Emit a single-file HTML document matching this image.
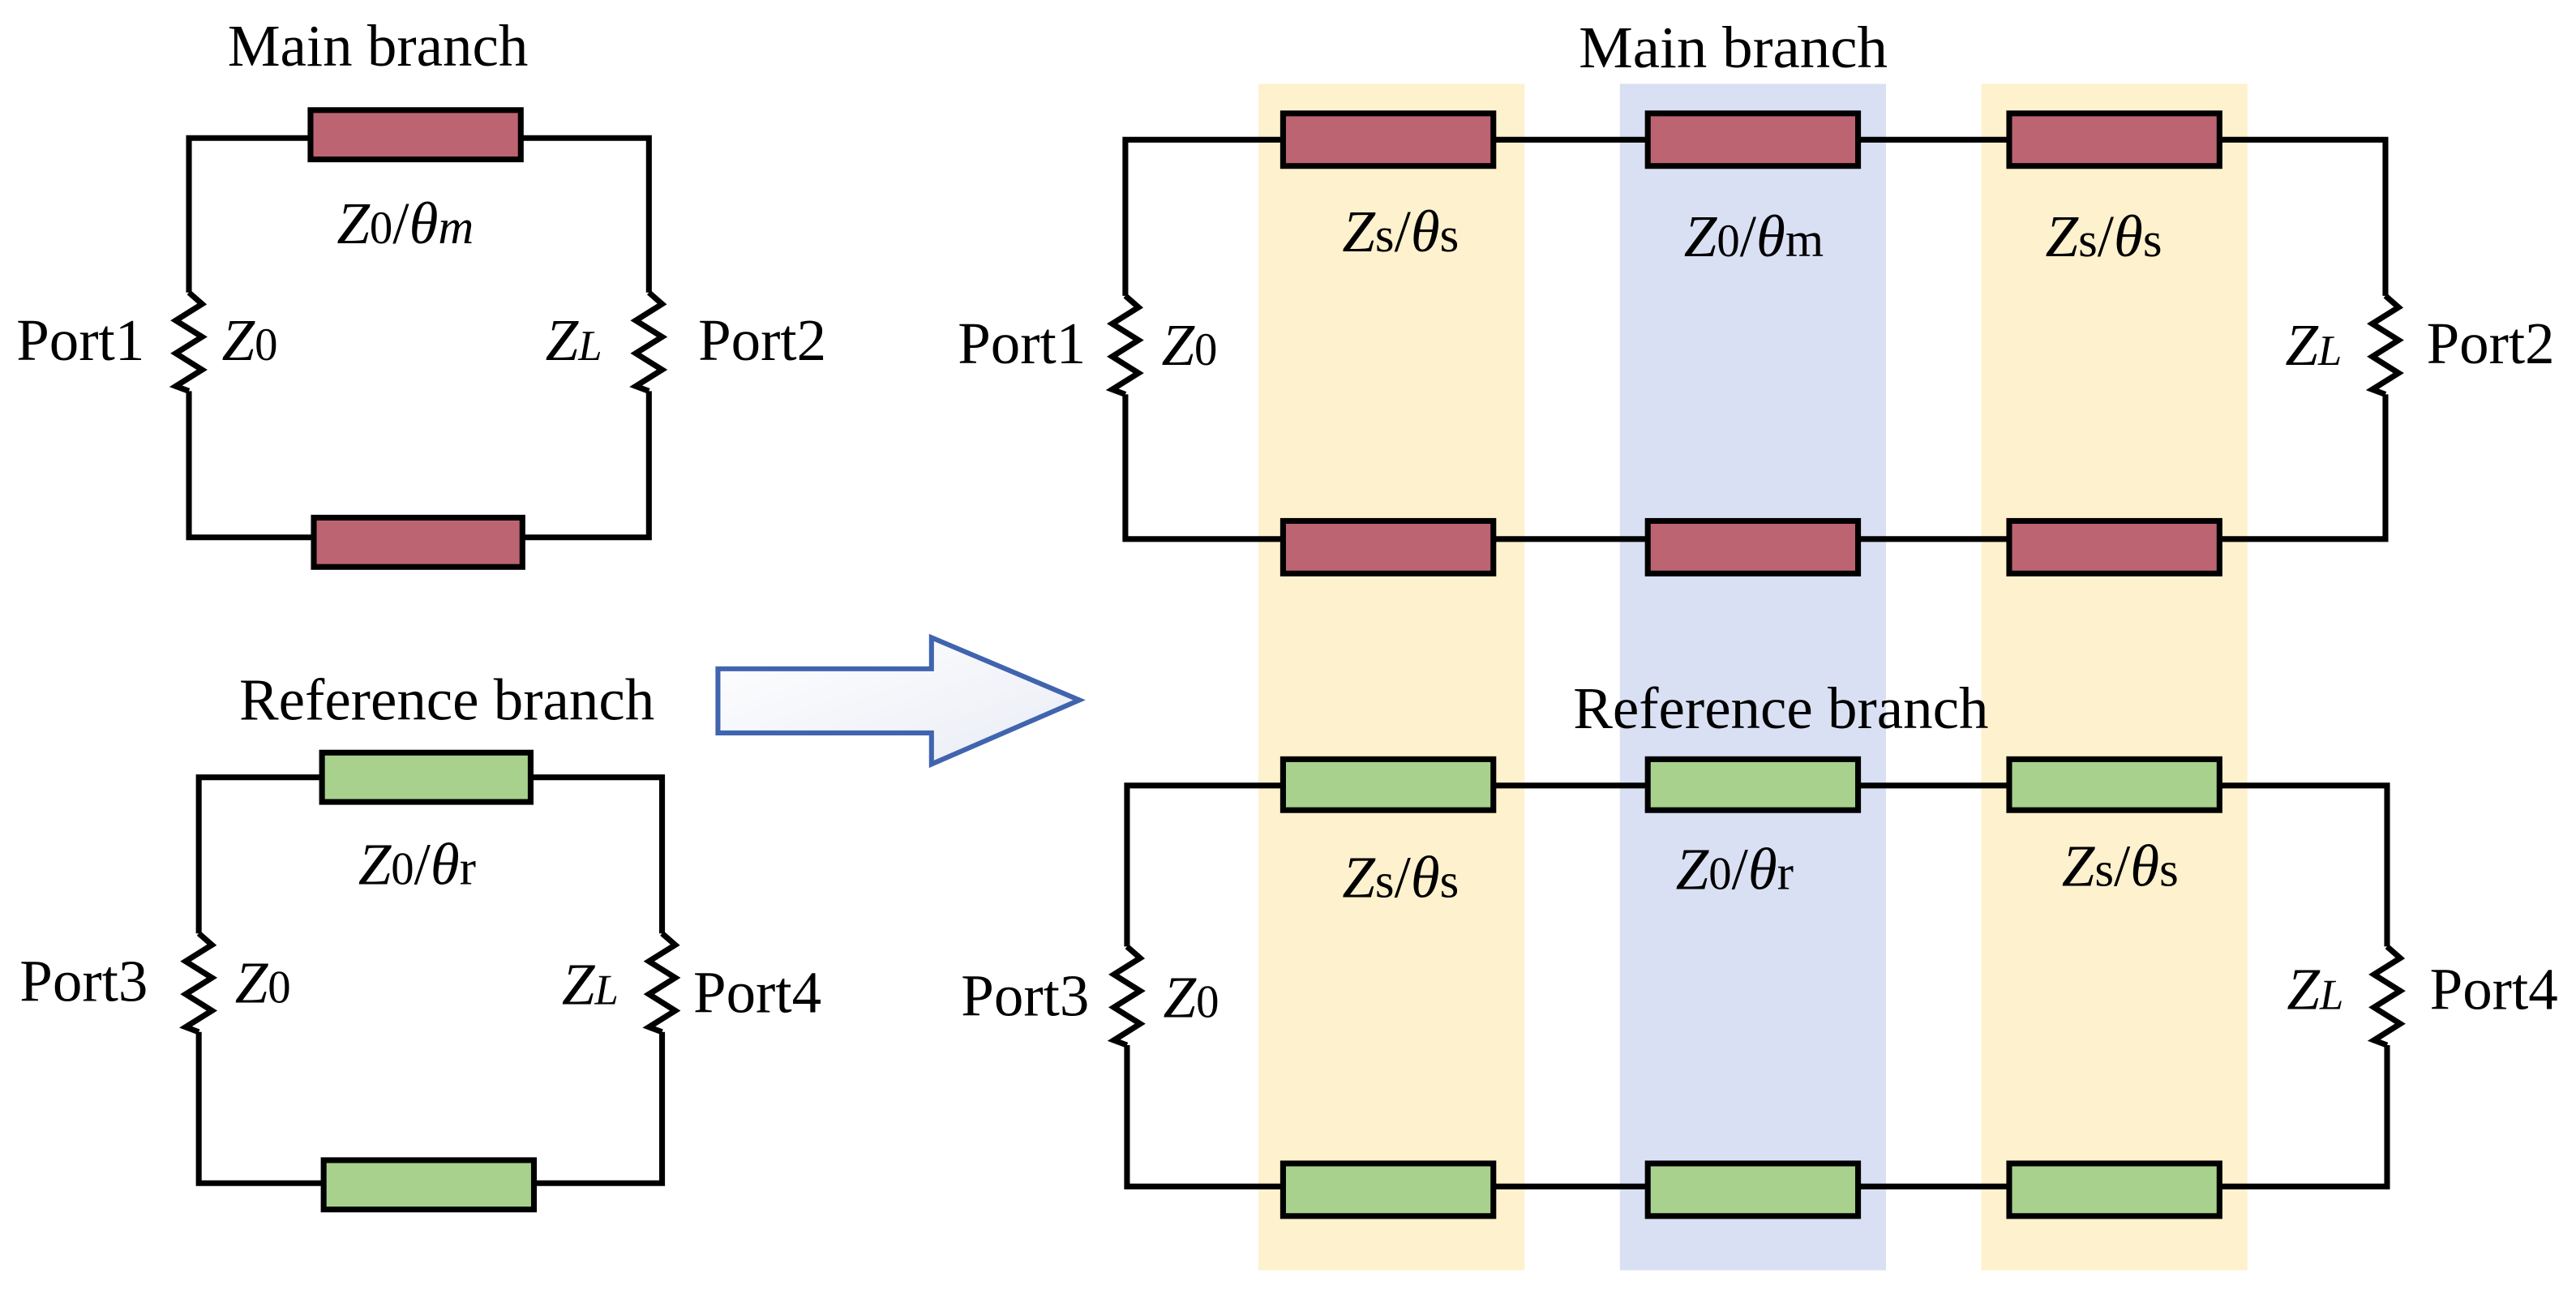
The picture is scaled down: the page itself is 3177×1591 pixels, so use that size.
<!DOCTYPE html>
<html><head><meta charset="utf-8"><style>
html,body{margin:0;padding:0;background:#fff;}
svg{display:block;}
text{font-family:"Liberation Serif",serif;fill:#000;}
</style></head><body>
<svg width="3177" height="1591" viewBox="0 0 1568 785" preserveAspectRatio="none" xmlns="http://www.w3.org/2000/svg">
<defs>
<linearGradient id="ag" x1="0" y1="0" x2="1" y2="1">
<stop offset="0" stop-color="#ffffff"/><stop offset="1" stop-color="#e9ecf5"/>
</linearGradient>
</defs>
<rect x="766" y="51" width="162" height="722" fill="#FEF1CD"/>
<rect x="986" y="51" width="162" height="722" fill="#DAE0F3"/>
<rect x="1206" y="51" width="162" height="722" fill="#FEF1CD"/>

<g stroke="#000" stroke-width="3.5" fill="none" stroke-linejoin="miter">
<path d="M115 178 V84 H395 V178 M115 238 V327 H395 V238"/>
<path d="M115 178 l8 7 l-16 10 l16 10 l-16 10 l16 10 l-16 10 l8 3"/>
<path d="M395 178 l8 7 l-16 10 l16 10 l-16 10 l16 10 l-16 10 l8 3"/>
<path d="M121 568 V473 H403 V568 M121 628 V720 H403 V628"/>
<path d="M121 568 l8 7 l-16 10 l16 10 l-16 10 l16 10 l-16 10 l8 3"/>
<path d="M403 568 l8 7 l-16 10 l16 10 l-16 10 l16 10 l-16 10 l8 3"/>
<path d="M685 180 V85 H1452 V180 M685 240 V328 H1452 V240"/>
<path d="M685 180 l8 7 l-16 10 l16 10 l-16 10 l16 10 l-16 10 l8 3"/>
<path d="M1452 180 l8 7 l-16 10 l16 10 l-16 10 l16 10 l-16 10 l8 3"/>
<path d="M686 576 V478 H1453 V576 M686 636 V722 H1453 V636"/>
<path d="M686 576 l8 7 l-16 10 l16 10 l-16 10 l16 10 l-16 10 l8 3"/>
<path d="M1453 576 l8 7 l-16 10 l16 10 l-16 10 l16 10 l-16 10 l8 3"/>
</g>

<g stroke="#000" stroke-width="3.5">
<g fill="#BC6472">
<rect x="189" y="67" width="128" height="30"/>
<rect x="191" y="315" width="127" height="30"/>
<rect x="781" y="69" width="128" height="32"/>
<rect x="1003" y="69" width="128" height="32"/>
<rect x="1223" y="69" width="128" height="32"/>
<rect x="781" y="317" width="128" height="32"/>
<rect x="1003" y="317" width="128" height="32"/>
<rect x="1223" y="317" width="128" height="32"/>
</g>
<g fill="#A9D18E">
<rect x="196" y="458" width="127" height="30"/>
<rect x="197" y="706" width="128" height="30"/>
<rect x="781" y="462" width="128" height="31"/>
<rect x="1003" y="462" width="128" height="31"/>
<rect x="1223" y="462" width="128" height="31"/>
<rect x="781" y="708" width="128" height="32"/>
<rect x="1003" y="708" width="128" height="32"/>
<rect x="1223" y="708" width="128" height="32"/>
</g>
</g>

<path d="M437 407 H567 V388 L657 426 L567 465 V446 H437 Z" fill="url(#ag)" stroke="#4064AE" stroke-width="3"/>

<g font-size="36">
<text x="230" y="40" text-anchor="middle">Main branch</text>
<text x="272" y="438" text-anchor="middle">Reference  branch</text>
<text x="1055" y="41" text-anchor="middle" textLength="188" lengthAdjust="spacingAndGlyphs">Main branch</text>
<text x="1084" y="443" text-anchor="middle">Reference  branch</text>

<text x="10" y="219">Port1</text>
<text x="425" y="219">Port2</text>
<text x="12" y="609">Port3</text>
<text x="422" y="616">Port4</text>
<text x="583" y="221">Port1</text>
<text x="1477" y="221">Port2</text>
<text x="585" y="618">Port3</text>
<text x="1479" y="614">Port4</text>

<text x="135" y="219"><tspan font-style="italic">Z</tspan><tspan font-size="28">0</tspan></text>
<text x="332" y="219"><tspan font-style="italic">Z</tspan><tspan font-style="italic" font-size="26">L</tspan></text>
<text x="143" y="610"><tspan font-style="italic">Z</tspan><tspan font-size="28">0</tspan></text>
<text x="342" y="611"><tspan font-style="italic">Z</tspan><tspan font-style="italic" font-size="26">L</tspan></text>
<text x="707" y="222"><tspan font-style="italic">Z</tspan><tspan font-size="28">0</tspan></text>
<text x="1391" y="222"><tspan font-style="italic">Z</tspan><tspan font-style="italic" font-size="26">L</tspan></text>
<text x="708" y="619"><tspan font-style="italic">Z</tspan><tspan font-size="28">0</tspan></text>
<text x="1392" y="614"><tspan font-style="italic">Z</tspan><tspan font-style="italic" font-size="26">L</tspan></text>

<text x="205" y="148"><tspan font-style="italic">Z</tspan><tspan font-size="28">0</tspan>/<tspan font-style="italic">θ</tspan><tspan font-style="italic" font-size="30">m</tspan></text>
<text x="218" y="538"><tspan font-style="italic">Z</tspan><tspan font-size="28">0</tspan>/<tspan font-style="italic">θ</tspan><tspan font-size="30">r</tspan></text>
<text x="817" y="153"><tspan font-style="italic">Z</tspan><tspan font-size="30">s</tspan>/<tspan font-style="italic">θ</tspan><tspan font-size="30">s</tspan></text>
<text x="1025" y="156"><tspan font-style="italic">Z</tspan><tspan font-size="28">0</tspan>/<tspan font-style="italic">θ</tspan><tspan font-size="30">m</tspan></text>
<text x="1245" y="156"><tspan font-style="italic">Z</tspan><tspan font-size="30">s</tspan>/<tspan font-style="italic">θ</tspan><tspan font-size="30">s</tspan></text>
<text x="817" y="546"><tspan font-style="italic">Z</tspan><tspan font-size="30">s</tspan>/<tspan font-style="italic">θ</tspan><tspan font-size="30">s</tspan></text>
<text x="1020" y="541"><tspan font-style="italic">Z</tspan><tspan font-size="28">0</tspan>/<tspan font-style="italic">θ</tspan><tspan font-size="30">r</tspan></text>
<text x="1255" y="539"><tspan font-style="italic">Z</tspan><tspan font-size="30">s</tspan>/<tspan font-style="italic">θ</tspan><tspan font-size="30">s</tspan></text>
</g>
</svg>
</body></html>
